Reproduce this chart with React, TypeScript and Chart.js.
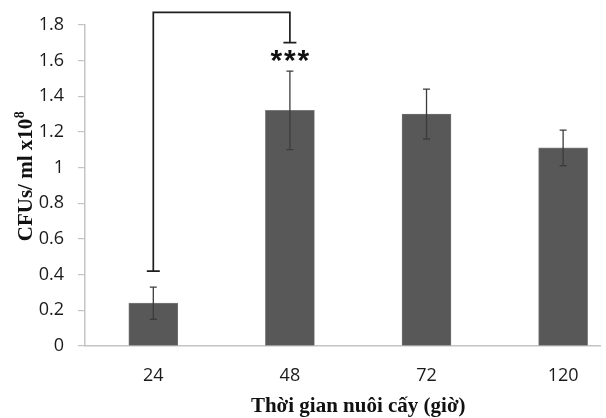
import React, { useEffect, useRef } from "react";
import { Chart, registerables } from "chart.js";

Chart.register(...registerables);

const categories = ["24", "48", "72", "120"];
const xPositions = [0.5, 1.5, 2.5, 3.5];
const means = [0.24, 1.32, 1.3, 1.11];
const errors = [0.09, 0.22, 0.14, 0.1];
const yTicks = [0, 0.2, 0.4, 0.6, 0.8, 1, 1.2, 1.4, 1.6, 1.8];
const bracketFrom = [0.5, 0.42]; // [x, y] start (24h)
const bracketTo = [1.5, 1.7]; // [x, y] end (48h)
const bracketTop = 1.87;
const significance = ["*", "*", "*"];
const xTitle = "Thời gian nuôi cấy (giờ)";
const yTitleMain = "CFUs/ ml x10";
const yTitleSup = "8";

const TICK_FONT = "'Open Sans', 'DejaVu Sans', sans-serif";
const TITLE_FONT = "'Liberation Serif', 'DejaVu Serif', serif";
const STAR_FONT = "'Liberation Sans', 'DejaVu Sans', sans-serif";

const overlayPlugin = {
  id: "overlay",
  afterDatasetsDraw(chart: any) {
    const ctx = chart.ctx;
    const xs = chart.scales.x;
    const ys = chart.scales.y;
    ctx.save();
    // error bars
    ctx.strokeStyle = "#3c3c3c";
    ctx.lineWidth = 1.3;
    means.forEach((m, i) => {
      const x = xs.getPixelForValue(xPositions[i]);
      const yt = ys.getPixelForValue(m + errors[i]);
      const yb = ys.getPixelForValue(m - errors[i]);
      ctx.beginPath();
      ctx.moveTo(x, yt);
      ctx.lineTo(x, yb);
      ctx.moveTo(x - 3.5, yt);
      ctx.lineTo(x + 3.5, yt);
      ctx.moveTo(x - 3.5, yb);
      ctx.lineTo(x + 3.5, yb);
      ctx.stroke();
    });
    // significance bracket
    const x1 = xs.getPixelForValue(bracketFrom[0]);
    const y1 = ys.getPixelForValue(bracketFrom[1]);
    const x2 = xs.getPixelForValue(bracketTo[0]);
    const y2 = ys.getPixelForValue(bracketTo[1]);
    const yTop = ys.getPixelForValue(bracketTop);
    ctx.strokeStyle = "#1e1e1e";
    ctx.lineWidth = 1.7;
    ctx.beginPath();
    ctx.moveTo(x1, y1);
    ctx.lineTo(x1, yTop);
    ctx.lineTo(x2, yTop);
    ctx.lineTo(x2, y2);
    ctx.moveTo(x1 - 6.5, y1);
    ctx.lineTo(x1 + 6.5, y1);
    ctx.moveTo(x2 - 6.5, y2);
    ctx.lineTo(x2 + 6.5, y2);
    ctx.stroke();
    // stars
    ctx.fillStyle = "#111";
    ctx.font = `bold 30px ${STAR_FONT}`;
    ctx.textAlign = "center";
    ctx.textBaseline = "alphabetic";
    const m = ctx.measureText("*");
    const cy = y2 + 13;
    const base = cy + (m.actualBoundingBoxAscent - m.actualBoundingBoxDescent) / 2;
    significance.forEach((s, i) => {
      ctx.fillText(s, x2 + (i - 1) * 13.5, base);
    });
    // x axis title centered on the full category span
    ctx.font = `bold 21px ${TITLE_FONT}`;
    ctx.fillStyle = "#111";
    ctx.textAlign = "center";
    ctx.textBaseline = "alphabetic";
    ctx.fillText(xTitle, xs.getPixelForValue(2), 412);
    // y axis title with superscript
    ctx.save();
    ctx.translate(31.5, 176.5);
    ctx.rotate(-Math.PI / 2);
    ctx.textAlign = "left";
    ctx.font = `bold 21px ${TITLE_FONT}`;
    const wMain = ctx.measureText(yTitleMain).width;
    ctx.font = `bold 14px ${TITLE_FONT}`;
    const wSup = ctx.measureText(yTitleSup).width;
    const start = -(wMain + wSup) / 2;
    ctx.font = `bold 21px ${TITLE_FONT}`;
    ctx.fillText(yTitleMain, start, 0);
    ctx.font = `bold 14px ${TITLE_FONT}`;
    ctx.fillText(yTitleSup, start + wMain + 0.5, -8);
    ctx.restore();
    ctx.restore();
  },
};

export default function App() {
  const ref = useRef<HTMLCanvasElement | null>(null);
  useEffect(() => {
    if (!ref.current) return;
    const chart = new Chart(ref.current, {
      type: "bar",
      data: {
        datasets: [
          {
            data: xPositions.map((x, i) => ({ x, y: means[i] })),
            backgroundColor: "#585858",
            borderColor: "#7a7a7a",
            borderWidth: 0.8,
            barThickness: 49,
          },
        ],
      },
      options: {
        animation: false,
        responsive: false,
        layout: { padding: { top: 23, right: 6, left: 0, bottom: 0 } },
        plugins: { legend: { display: false }, tooltip: { enabled: false } },
        scales: {
          x: {
            type: "linear",
            min: 0,
            max: 3.77,
            offset: false,
            afterBuildTicks: (scale: any) => {
              scale.ticks = xPositions.map((v) => ({ value: v }));
            },
            afterFit: (scale: any) => {
              scale.height = 72;
            },
            grid: { display: false, drawTicks: false, offset: false },
            border: { display: true, color: "#c4c4c4", width: 1.5 },
            ticks: {
              autoSkip: false,
              maxRotation: 0,
              padding: 19,
              color: "#1a1a1a",
              font: { family: TICK_FONT, size: 18 },
              callback: (_v: any, i: number) => categories[i],
            },
          },
          y: {
            min: 0,
            max: 1.8,
            afterBuildTicks: (scale: any) => {
              scale.ticks = yTicks.map((v) => ({ value: v }));
            },
            afterFit: (scale: any) => {
              scale.width = 85;
            },
            grid: {
              drawOnChartArea: false,
              drawTicks: true,
              tickLength: 7,
              color: "#c4c4c4",
              lineWidth: 1.2,
            },
            border: { display: true, color: "#c4c4c4", width: 1.5 },
            ticks: {
              padding: 14,
              color: "#1a1a1a",
              font: { family: TICK_FONT, size: 18 },
              callback: (v: any) => String(Math.round(Number(v) * 10) / 10),
            },
          },
        },
      },
      plugins: [overlayPlugin],
    });
    return () => chart.destroy();
  }, []);
  return (
    <div style={{ position: "absolute", left: 0, top: 0, width: 606, height: 418, background: "#fff", overflow: "hidden" }}>
      <canvas ref={ref} width={606} height={418} style={{ display: "block" }} />
    </div>
  );
}
